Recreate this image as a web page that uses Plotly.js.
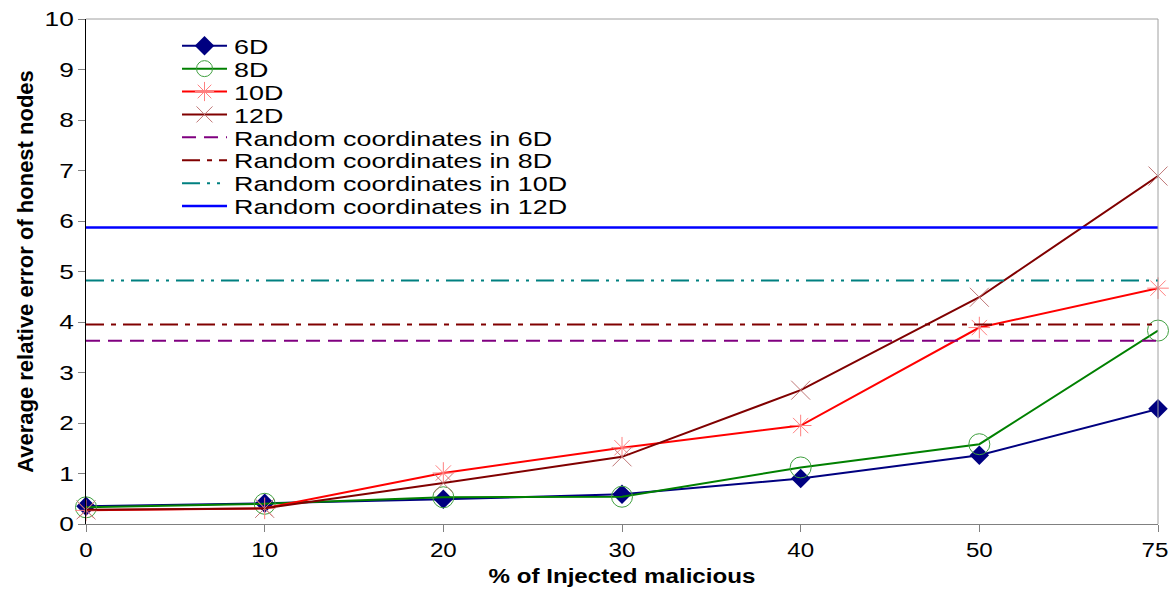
<!DOCTYPE html>
<html>
<head>
<meta charset="utf-8">
<script src="https://cdn.plot.ly/plotly-3.0.1.min.js"></script>
<style>
html, body { margin: 0; padding: 0; background: #ffffff; }
#chart { width: 1170px; height: 590px; }
</style>
</head>
<body>
<div id="chart"></div>
<script>
// ---- data ----
const categories = ["0", "10", "20", "30", "40", "50", "75"];
const seriesNames = ["6D", "8D", "10D", "12D"];
const values6D  = [0.35, 0.41, 0.49, 0.59, 0.90, 1.36, 2.28];
const values8D  = [0.33, 0.40, 0.53, 0.54, 1.12, 1.58, 3.83];
const values10D = [0.27, 0.31, 1.01, 1.51, 1.95, 3.89, 4.67];
const values12D = [0.28, 0.31, 0.81, 1.33, 2.65, 4.49, 6.89];
const randomNames = ["Random coordinates in 6D", "Random coordinates in 8D",
                     "Random coordinates in 10D", "Random coordinates in 12D"];
const randomValues = [3.63, 3.95, 4.82, 5.87];
const yTicks = [0, 1, 2, 3, 4, 5, 6, 7, 8, 9, 10];

const FONT = "Liberation Sans, Arial, sans-serif";

const seriesStyles = [
  {line: {color: "#000080", width: 2}, marker: {symbol: "diamond", size: 15, color: "#000080", line: {width: 0}}},
  {line: {color: "#008000", width: 2}, marker: {symbol: "circle-open", size: 21, color: "#40a040", line: {width: 1, color: "#40a040"}}},
  {line: {color: "#ff0000", width: 2}, marker: {symbol: "asterisk-open", size: 18, color: "#ff8080", line: {width: 1, color: "#ff8080"}}},
  {line: {color: "#800000", width: 2}, marker: {symbol: "x-thin-open", size: 19, color: "#c07878", line: {width: 1, color: "#c07878"}}}
];
const seriesData = [values6D, values8D, values10D, values12D];

const randomStyles = [
  {color: "#800080", width: 2, dash: "14px,8px"},
  {color: "#800000", width: 2, dash: "18px,7px,5px,7px"},
  {color: "#008080", width: 2, dash: "18px,7px,3px,7px,3px,7px"},
  {color: "#0000ff", width: 2.5, dash: "solid"}
];

const traces = [];
seriesNames.forEach((name, i) => {
  traces.push({
    type: "scatter", mode: "lines+markers", name: name,
    x: categories, y: seriesData[i],
    line: seriesStyles[i].line, marker: seriesStyles[i].marker,
    cliponaxis: false
  });
});
randomNames.forEach((name, i) => {
  traces.push({
    type: "scatter", mode: "lines", name: name,
    x: [categories[0], categories[categories.length - 1]],
    y: [randomValues[i], randomValues[i]],
    line: randomStyles[i]
  });
});

const layout = {
  width: 1170, height: 590,
  margin: {l: 86, r: 12, t: 19, b: 66},
  paper_bgcolor: "#ffffff", plot_bgcolor: "#ffffff",
  font: {family: FONT, color: "#000000", size: 21},
  showlegend: true,
  legend: {
    x: 0.0849, y: 0.985, xanchor: "left", yanchor: "top",
    bgcolor: "rgba(0,0,0,0)", borderwidth: 0,
    font: {family: FONT, size: 21, color: "#000000"},
    tracegroupgap: 0, itemwidth: 30
  },
  xaxis: {
    type: "category", range: [0, 6],
    showgrid: false, zeroline: false,
    showline: true, linecolor: "#808080", linewidth: 1,
    ticks: "outside", ticklen: 7, tickcolor: "#808080",
    tickfont: {family: FONT, size: 21, color: "#000000"},
    title: {text: "% of Injected malicious", font: {family: FONT, size: 21, color: "#000000", weight: "bold"}, standoff: 8}
  },
  yaxis: {
    range: [0, 10], tickvals: yTicks, ticktext: yTicks.map(String),
    showgrid: false, zeroline: false,
    showline: true, linecolor: "#000000", linewidth: 1,
    ticks: "outside", ticklen: 7, tickcolor: "#808080",
    tickfont: {family: FONT, size: 21, color: "#000000"},
    title: {text: "Average relative error of honest nodes", font: {family: FONT, size: 22, color: "#000000", weight: "bold"}, standoff: 10}
  },
  shapes: [
    {type: "line", xref: "paper", yref: "paper", x0: 0, x1: 1, y0: 1, y1: 1, line: {color: "#a0a0a0", width: 1}},
    {type: "line", xref: "paper", yref: "paper", x0: 1, x1: 1, y0: 0, y1: 1, line: {color: "#a0a0a0", width: 1}}
  ]
};

function stretchText(el, sx, sy, dx) {
  const x = parseFloat(el.getAttribute("x") || "0");
  const y = parseFloat(el.getAttribute("y") || "0");
  const t = el.getAttribute("transform") || "";
  el.setAttribute("transform", (t + " translate(" + (x + (dx || 0)) + "," + y + ") scale(" + sx + "," + sy + ") translate(" + (-x) + "," + (-y) + ")").trim());
}

Plotly.newPlot("chart", traces, layout, {staticPlot: true, displayModeBar: false}).then(gd => {
  // legend: no clipping, longer symbol lines, reference spacing, wider text
  gd.querySelectorAll(".legend, .legend *").forEach(el => el.removeAttribute("clip-path"));
  const items = gd.querySelectorAll(".legend .traces");
  if (items.length) {
    const m = /translate\(\s*([-\d.]+)[ ,]+([-\d.]+)\s*\)/.exec(items[0].getAttribute("transform") || "");
    const x0 = m ? parseFloat(m[1]) : 0;
    const y0 = m ? parseFloat(m[2]) : 0;
    items.forEach((el, i) => {
      el.setAttribute("transform", "translate(" + x0 + "," + (y0 - 1 + i * 22.9) + ")");
      el.querySelectorAll("path.js-line").forEach(p => p.setAttribute("d", "M5,0h45"));
      el.querySelectorAll(".legendpoints .scatterpts").forEach(p => {
        p.setAttribute("transform", "translate(27.5,0)");
      });
      const txt = el.querySelector("text.legendtext");
      if (txt) {
        txt.setAttribute("x", "57");
        stretchText(txt, 1.28, 1, 0);
      }
    });
  }
  gd.querySelectorAll(".ytick text").forEach(t => stretchText(t, 1.25, 1, 0));
  const xt = gd.querySelectorAll(".xtick text");
  xt.forEach((t, i) => stretchText(t, 1.15, 1, i === xt.length - 1 ? -3 : 0));
  gd.querySelectorAll(".g-xtitle text").forEach(t => stretchText(t, 1.15, 1, 0));
});
</script>
</body>
</html>
